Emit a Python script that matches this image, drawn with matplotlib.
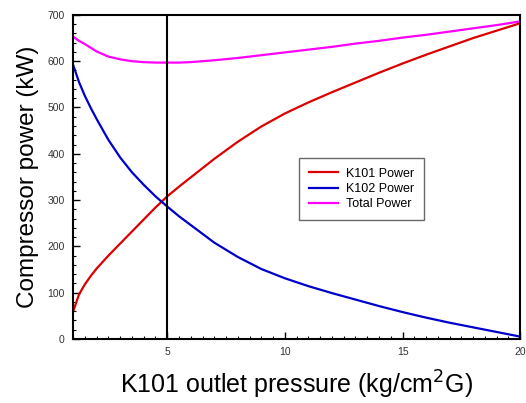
import matplotlib
matplotlib.use("Agg")
import matplotlib.pyplot as plt
from matplotlib.ticker import MultipleLocator

pressure = [1, 1.25, 1.5, 1.75, 2, 2.5, 3, 3.5, 4, 4.5, 5, 5.5, 6, 7, 8, 9, 10,
            11, 12, 13, 14, 15, 16, 17, 18, 19, 20]
k101_power = [59, 96, 118, 136, 152, 180, 206, 232, 258, 284, 308, 329, 349, 389, 426, 459, 487,
              511, 533, 554, 575, 595, 614, 632, 650, 666, 682]
k102_power = [592, 555, 525, 499, 475, 430, 392, 360, 333, 308, 286, 265, 246, 208, 177, 151, 131,
              114, 99, 85, 71, 58, 46, 35, 25, 15, 5]
total_power = [653, 644, 637, 629, 621, 610, 604, 600, 598, 597, 597, 597, 598, 602, 607, 613, 619,
               625, 631, 638, 644, 651, 657, 664, 671, 678, 686]
design_pressure = 5
series_labels = ["K101 Power", "K102 Power", "Total Power"]
x_ticks = [5, 10, 15, 20]
y_ticks = [0, 100, 200, 300, 400, 500, 600, 700]

plt.rcParams['font.family'] = ['Liberation Sans', 'DejaVu Sans']

fig = plt.figure(figsize=(5.26, 4.03), dpi=100)
ax = fig.add_axes([0.139, 0.159, 0.850, 0.804])

ax.plot(pressure, k101_power, color='#dd0000', lw=1.6, label=series_labels[0])
ax.plot(pressure, k102_power, color='#0000cc', lw=1.6, label=series_labels[1])
ax.plot(pressure, total_power, color='#ff00ff', lw=1.6, label=series_labels[2])
ax.axvline(design_pressure, color='black', lw=1.5)

ax.set_xlim(1, 20)
ax.set_ylim(0, 700)
ax.set_xticks(x_ticks)
ax.set_yticks(y_ticks)
ax.xaxis.set_minor_locator(MultipleLocator(0.5))
ax.yaxis.set_minor_locator(MultipleLocator(20))
ax.tick_params(which='major', direction='in', length=5, width=1, labelsize=7.5,
               labelcolor='#333333', pad=6)
ax.tick_params(which='minor', direction='in', length=2.5, width=0.8)
for s in ax.spines.values():
    s.set_linewidth(1.5)

ax.set_xlabel("K101 outlet pressure (kg/cm$^{2}$G)", fontsize=18, labelpad=8)
ax.set_ylabel("Compressor power (kW)", fontsize=17.5, labelpad=6)

leg = ax.legend(loc='lower left', bbox_to_anchor=(0.506, 0.367), fontsize=9,
                frameon=True, fancybox=False, edgecolor='#444444',
                handlelength=2.3, borderpad=0.8, labelspacing=0.25, handletextpad=0.6,
                borderaxespad=0)
leg.get_frame().set_linewidth(1.0)

fig.savefig("out.png", dpi=100)
